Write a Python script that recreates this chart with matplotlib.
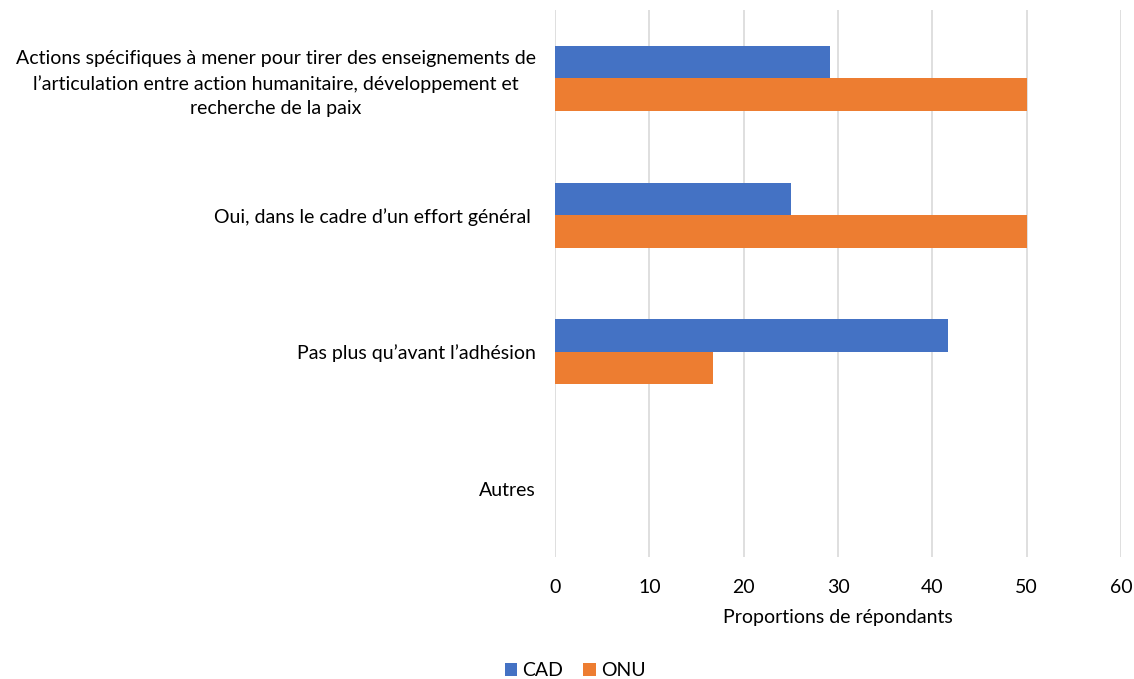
import matplotlib
matplotlib.use("Agg")
import matplotlib.pyplot as plt
import numpy as np

categories = [
    "Actions spécifiques à mener pour tirer des enseignements de\nl’articulation entre action humanitaire, développement et\nrecherche de la paix",
    "Oui, dans le cadre d’un effort général ",
    "Pas plus qu’avant l’adhésion",
    "Autres",
]
cad = [29.2, 25.0, 41.7, 0.0]
onu = [50.0, 50.0, 16.7, 0.0]
series_names = ["CAD", "ONU"]
colors = ["#4472C4", "#ED7D31"]
xticks = [0, 10, 20, 30, 40, 50, 60]

plt.rcParams["font.family"] = ["Lato", "DejaVu Sans"]
FS = 14

fig = plt.figure(figsize=(11.34, 6.79), dpi=100)
ax = fig.add_axes([555/1134, 1 - 557/679, (1121-555)/1134, (557-10)/679])

y = np.arange(len(categories))
h = 0.237
ax.barh(y - h/2, cad, height=h, color=colors[0], label=series_names[0], zorder=3)
ax.barh(y + h/2, onu, height=h, color=colors[1], label=series_names[1], zorder=3)

ax.set_ylim(len(categories) - 0.5, -0.5)
ax.set_xlim(0, 60)
ax.set_xticks(xticks)
ax.set_xticklabels([str(t) for t in xticks], fontsize=FS)
ax.set_yticks(y)
ax.set_yticklabels(categories, fontsize=FS, ha="right")
for lbl in ax.get_yticklabels():
    lbl.set_multialignment("center")
    lbl.set_linespacing(1.5)
ax.tick_params(axis="y", length=0, pad=14)
ax.tick_params(axis="x", length=0, pad=15.5)

ax.grid(axis="x", color="#D9D9D9", linewidth=1.2, zorder=0)
for s in ["top", "right", "bottom", "left"]:
    ax.spines[s].set_visible(False)

ax.set_xlabel("Proportions de répondants", fontsize=FS, labelpad=10)

handles, labels = ax.get_legend_handles_labels()
fig.legend(handles, labels, loc="center", bbox_to_anchor=(575/1134, 1 - 671/679),
           ncol=2, frameon=False, fontsize=FS, handlelength=0.65, handleheight=0.65,
           handletextpad=0.25, columnspacing=1.05, borderpad=0.1)

fig.savefig("out.png", dpi=100, facecolor="white")
